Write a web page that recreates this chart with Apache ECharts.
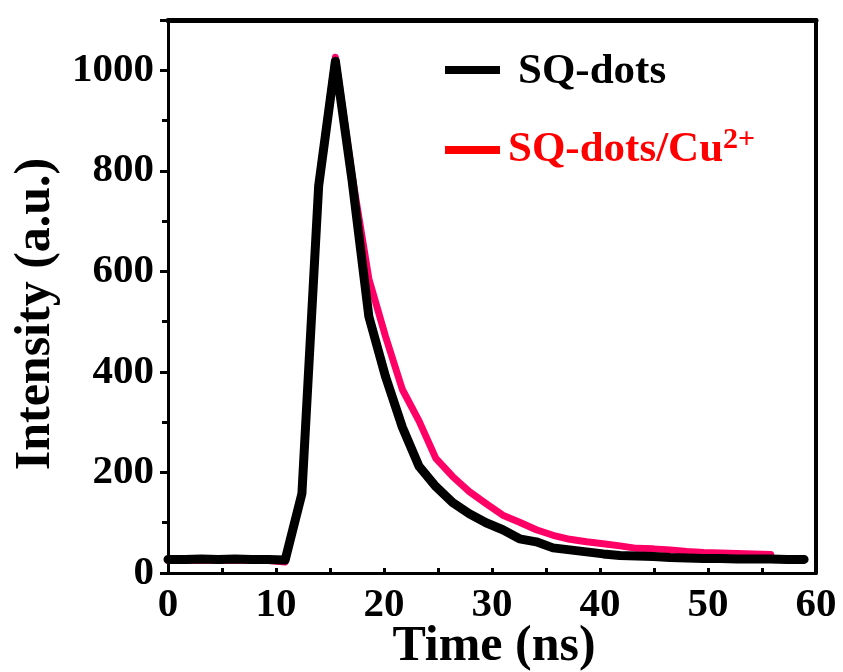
<!DOCTYPE html>
<html>
<head>
<meta charset="utf-8">
<script src="https://cdn.jsdelivr.net/npm/echarts@6/dist/echarts.min.js"></script>
<style>
  html, body { margin: 0; padding: 0; background: #fff; }
  #chart { width: 843px; height: 672px; }
</style>
</head>
<body>
<div id="chart"></div>
<script>
// Fluorescence decay traces (time-correlated photon counts)
const timeNs = [0, 1.55, 3.1, 4.65, 6.2, 7.75, 9.3, 10.85, 12.4, 13.95, 15.5, 17.05, 18.6, 20.15,
  21.7, 23.25, 24.8, 26.35, 27.9, 29.45, 31.0, 32.55, 34.1, 35.65, 37.2, 38.75, 40.3, 41.85,
  43.4, 44.95, 46.5, 48.05, 49.6, 51.15, 52.7, 54.25, 55.8, 57.35, 58.9];

const sqDots = [27, 27, 28, 27, 28, 27, 27, 26, 158, 770, 1018, 780, 510, 390, 290, 212, 172, 140,
  118, 100, 86, 68, 62, 50, 46, 42, 38, 35, 34, 33, 31, 30, 29, 29, 28, 28, 28, 27, 27];

const sqDotsCu = [25, 25, 26, 25, 26, 25, 25, 22, 162, 775, 1026, 790, 585, 470, 365, 302, 228, 192,
  162, 138, 115, 101, 86, 75, 67, 62, 58, 54, 49, 48, 46, 43, 41, 40, 39, 38, 37];

const xTicks = [0, 10, 20, 30, 40, 50, 60];
const yTicks = [0, 200, 400, 600, 800, 1000];

const seriesNames = ['SQ-dots', 'SQ-dots/Cu'];
const xTitle = 'Time (ns)';
const yTitle = 'Intensity (a.u.)';

const FONT = '"Times New Roman", "Liberation Serif", serif';

function pairs(xs, ys) {
  return ys.map((v, i) => [xs[i], v]);
}

const chart = echarts.init(document.getElementById('chart'), null, { renderer: 'canvas' });

const labelStyle = { fontFamily: FONT, fontWeight: 'bold', fontSize: 41, color: '#000' };
const frameAxis = {
  axisTick: { show: false }, axisLabel: { show: false }, splitLine: { show: false }
};

chart.setOption({
  animation: false,
  backgroundColor: '#fff',
  grid: { left: 168, right: 27, top: 20, bottom: 99, show: false, containLabel: false, outerBoundsMode: 'none' },
  xAxis: [
    {
      type: 'value', position: 'bottom', min: 0, max: 60, interval: 10,
      axisLine: { onZero: false, lineStyle: { color: '#000', width: 3 } },
      axisTick: { show: false },
      axisLabel: Object.assign({ margin: 12, formatter: v => xTicks.includes(v) ? String(v) : '' }, labelStyle),
      splitLine: { show: false }
    },
    {
      // inward tick marks every 5 ns
      type: 'value', position: 'bottom', min: 0, max: 60, interval: 5,
      axisLine: { show: false, onZero: false },
      axisTick: { show: true, inside: true, length: 5, lineStyle: { color: '#000', width: 3 } },
      axisLabel: { show: false }, splitLine: { show: false }
    },
    Object.assign({
      // top frame
      type: 'value', position: 'top', min: 0, max: 60,
      axisLine: { show: true, onZero: false, lineStyle: { color: '#000', width: 5 } }
    }, frameAxis)
  ],
  yAxis: [
    {
      type: 'value', position: 'left', min: 0, max: 1100, interval: 200,
      axisLine: { onZero: false, lineStyle: { color: '#000', width: 3 } },
      axisTick: { show: true, length: 8, lineStyle: { color: '#000', width: 3 } },
      axisLabel: Object.assign({ margin: 14, formatter: v => yTicks.includes(v) ? String(v) : '' }, labelStyle),
      splitLine: { show: false }
    },
    {
      // outward minor ticks every 100
      type: 'value', position: 'left', min: 0, max: 1100, interval: 100,
      axisLine: { show: false, onZero: false },
      axisTick: { show: true, length: 6, lineStyle: { color: '#000', width: 3 } },
      axisLabel: { show: false }, splitLine: { show: false }
    },
    Object.assign({
      // right frame
      type: 'value', position: 'right', min: 0, max: 1100,
      axisLine: { show: true, onZero: false, lineStyle: { color: '#000', width: 4 } }
    }, frameAxis)
  ],
  series: [
    {
      name: seriesNames[1], type: 'line', xAxisIndex: 0, yAxisIndex: 0,
      data: pairs(timeNs, sqDotsCu), showSymbol: false, z: 2,
      lineStyle: { color: '#ff0066', width: 7, join: 'round', cap: 'round' }
    },
    {
      name: seriesNames[0], type: 'line', xAxisIndex: 0, yAxisIndex: 0,
      data: pairs(timeNs, sqDots), showSymbol: false, z: 3,
      lineStyle: { color: '#000', width: 9, join: 'round', cap: 'round' }
    }
  ],
  graphic: [
    {
      // horizontal axis title
      type: 'text', x: 494, y: 647,
      style: { text: xTitle, font: 'bold 50px ' + FONT, fill: '#000', textAlign: 'center', textVerticalAlign: 'middle' }
    },
    {
      // vertical axis title
      type: 'text', x: 36, y: 314, rotation: Math.PI / 2,
      style: { text: yTitle, font: 'bold 50px ' + FONT, fill: '#000', textAlign: 'center', textVerticalAlign: 'middle' }
    },
    { type: 'line', shape: { x1: 445, y1: 70, x2: 500, y2: 70 }, style: { stroke: '#000', lineWidth: 8 } },
    {
      type: 'text', x: 518, y: 72,
      style: { text: seriesNames[0], font: 'bold 43px ' + FONT, fill: '#000', textVerticalAlign: 'middle' }
    },
    { type: 'line', shape: { x1: 445, y1: 150, x2: 500, y2: 150 }, style: { stroke: '#ff0000', lineWidth: 8 } },
    {
      type: 'text', x: 508, y: 148,
      style: {
        text: '{a|' + seriesNames[1] + '}{b|2+}',
        textVerticalAlign: 'middle',
        rich: {
          a: { fontFamily: FONT, fontWeight: 'bold', fontSize: 43, fill: '#ff0000', color: '#ff0000', verticalAlign: 'bottom', lineHeight: 46 },
          b: { fontFamily: FONT, fontWeight: 'bold', fontSize: 30, fill: '#ff0000', color: '#ff0000', verticalAlign: 'top', lineHeight: 46 }
        }
      }
    }
  ]
});
</script>
</body>
</html>
